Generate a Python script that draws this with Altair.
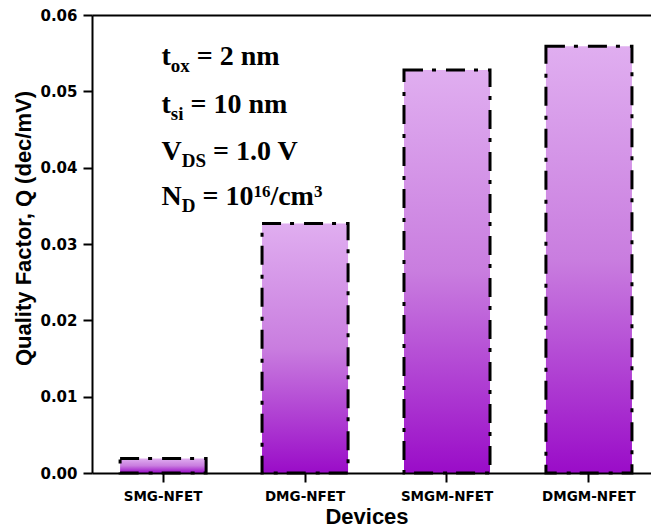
import altair as alt
import pandas as pd

# Quality factor of the four device structures
devices = ["SMG-NFET", "DMG-NFET", "SMGM-NFET", "DMGM-NFET"]
quality = [0.0019, 0.0327, 0.0528, 0.0559]
y_ticks = [0.0, 0.01, 0.02, 0.03, 0.04, 0.05, 0.06]

# Parameter annotation: (text, role) pieces per line
annotation_lines = [
    [("t", "main"), ("ox", "sub"), (" = 2 nm", "main")],
    [("t", "main"), ("si", "sub"), (" = 10 nm", "main")],
    [("V", "main"), ("DS", "sub"), (" = 1.0 V", "main")],
    [("N", "main"), ("D", "sub"), (" = 10", "main"), ("16", "sup"),
     ("/cm", "main"), ("3", "sup")],
]

df = pd.DataFrame({"device": devices, "q": quality})

PLOT_W, PLOT_H = 559, 458
PAD = {"left": 92, "top": 15, "right": 0, "bottom": 58}

SANS = "DejaVu Sans"
TITLE_FONT = "Liberation Sans"
SERIF = "Liberation Serif"

x_scale = alt.Scale(paddingInner=0.394, paddingOuter=0.166, align=0.596)
y_scale = alt.Scale(domain=[0, 0.06], nice=False)

fill = alt.Gradient(
    gradient="linear",
    x1=0, y1=0, x2=0, y2=1,
    stops=[
        alt.GradientStop(color="#e0aef0", offset=0),
        alt.GradientStop(color="#c97ddf", offset=0.5),
        alt.GradientStop(color="#9a0cc8", offset=1),
    ],
)

base = alt.Chart(df)

bars = base.mark_bar(
    fill=fill,
    stroke="black",
    strokeWidth=3,
    strokeDash=[19, 9, 4, 10],
).encode(
    x=alt.X(
        "device:N",
        sort=devices,
        scale=x_scale,
        axis=alt.Axis(
            orient="bottom",
            title="Devices",
            titleFont=TITLE_FONT,
            titleFontSize=22,
            titleFontWeight="bold",
            titleColor="black",
            titleX=274.5,
            titleY=50,
            titleBaseline="alphabetic",
            titleAlign="center",
            labelFont=SANS,
            labelFontSize=13.5,
            labelFontWeight="bold",
            labelColor="black",
            labelAngle=0,
            labelPadding=7,
            tickSize=9,
            tickWidth=2,
            tickColor="black",
            domainWidth=2,
            domainColor="black",
            zindex=1,
        ),
    ),
    y=alt.Y(
        "q:Q",
        scale=y_scale,
        axis=alt.Axis(
            values=y_ticks,
            format=".2f",
            title="Quality Factor, Q (dec/mV)",
            titleFont=TITLE_FONT,
            titleFontSize=22,
            titleFontWeight="bold",
            titleColor="black",
            titleAngle=270,
            titleX=-68.5,
            titleY=213,
            titleAlign="center",
            titleBaseline="middle",
            labelFont=SANS,
            labelFontSize=15,
            labelFontWeight="bold",
            labelColor="black",
            labelPadding=6,
            tickSize=9,
            tickWidth=2,
            tickColor="black",
            domainWidth=2,
            domainColor="black",
            grid=False,
            zindex=1,
        ),
    ),
)

# Top frame line: an unlabeled axis on the top edge
frame_top = base.mark_bar(opacity=0).encode(
    x=alt.X(
        "device:N",
        sort=devices,
        scale=x_scale,
        axis=alt.Axis(
            orient="top", labels=False, ticks=False, title=None,
            domainWidth=2, domainColor="black", zindex=1,
        ),
    ),
)

# Times-Bold advance widths (per em) for laying out the annotation pieces
WIDTHS = {
    " ": 0.25, "=": 0.570, ".": 0.25, "/": 0.278,
    "0": 0.5, "1": 0.5, "2": 0.5, "3": 0.5, "6": 0.5,
    "c": 0.444, "m": 0.833, "n": 0.556, "o": 0.5, "x": 0.5,
    "s": 0.389, "i": 0.278, "t": 0.333,
    "D": 0.722, "N": 0.722, "S": 0.556, "V": 0.722,
}
MAIN_SIZE, SUB_SIZE, SUP_SIZE = 28, 19, 17
ROLE = {"main": (MAIN_SIZE, 0), "sub": (SUB_SIZE, 7), "sup": (SUP_SIZE, -8)}
TEXT_X0 = 161.5 - PAD["left"]
BASELINES = [65, 113, 160, 205]


def advance(s, size):
    return sum(WIDTHS.get(ch, 0.5) for ch in s) * size


one_row = pd.DataFrame({"k": [0]})
text_layers = []
for line, baseline in zip(annotation_lines, BASELINES):
    cx = TEXT_X0
    for piece, role in line:
        size, dy = ROLE[role]
        # leading blanks collapse in SVG text, so step over them explicitly
        stripped = piece.lstrip(" ")
        cx += advance(piece[: len(piece) - len(stripped)], size)
        text_layers.append(
            alt.Chart(one_row).mark_text(
                text=stripped,
                font=SERIF,
                fontSize=size,
                fontWeight="bold",
                color="black",
                align="left",
                baseline="alphabetic",
            ).encode(
                x=alt.value(cx),
                y=alt.value(baseline - PAD["top"] + dy),
            )
        )
        cx += advance(stripped, size)

chart = (
    alt.layer(frame_top, bars, *text_layers)
    .resolve_axis(x="independent")
    .properties(
        width=PLOT_W,
        height=PLOT_H,
        autosize=alt.AutoSizeParams(type="none"),
        padding=PAD,
        background="white",
    )
    .configure_view(stroke=None)
)

chart.save("out.html", embed_options={"renderer": "svg", "actions": False})
